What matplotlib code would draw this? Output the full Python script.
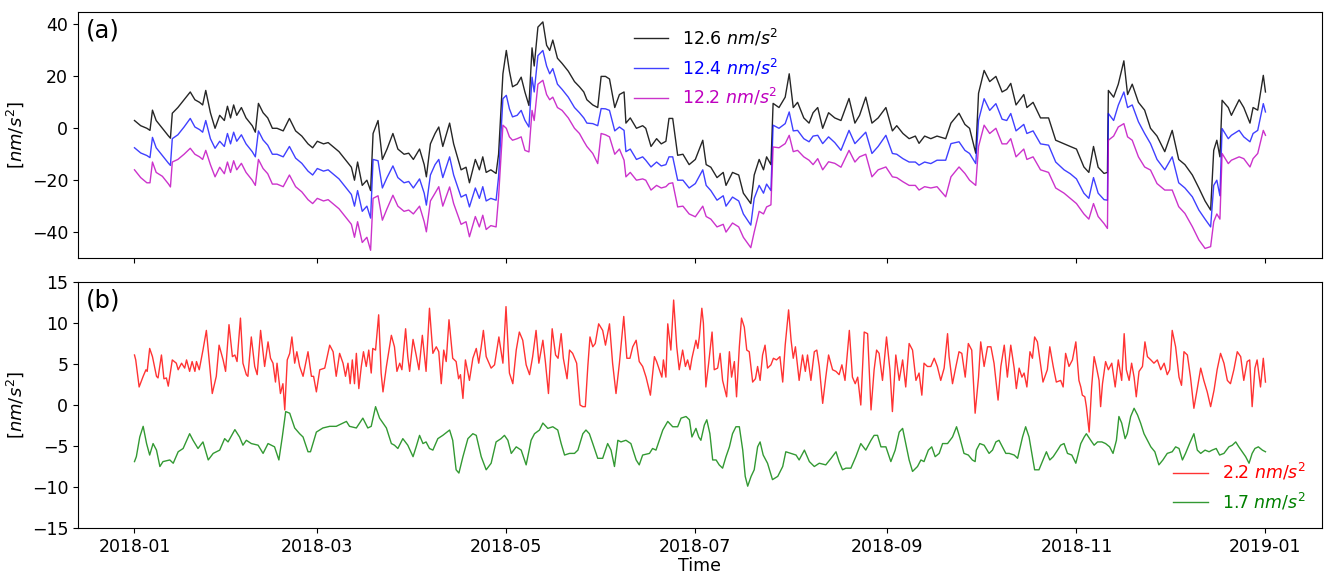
import numpy as np
import pandas as pd
import matplotlib
matplotlib.use("Agg")
import matplotlib.pyplot as plt
import matplotlib.dates as mdates

START = pd.Timestamp("2018-01-01")

# panel (a): day offsets from 2018-01-01, shared by the three curves
days_a = [0, 2, 4, 5, 5.8, 7, 9, 11, 11.6,
          12.2, 14, 16, 18, 19.5, 21, 22, 23, 24.5, 26, 27.5, 29, 30, 31, 32, 33, 34.5, 36, 38, 39, 40,
          41.5, 43, 44.5, 46, 48, 50, 52, 54, 56, 57.5, 59, 61, 62.5, 64, 66, 68, 70, 71, 72, 73.5, 75, 76.2,
          77, 78.6, 80, 81.5, 83.4, 85, 87, 88.5, 90, 92, 93.5, 94.2, 95.5, 97, 98.2, 99.5, 101.7, 103,
          105.4, 107, 108.1, 110, 111.3, 112.4, 113.5, 115, 116.7,
          117.5, 118.9, 120, 121, 122, 123.5, 124.8, 126, 127.3,
          128.3, 129, 130.2, 131.8, 133, 134, 135, 136.5, 138, 140, 142, 143.6, 145, 146, 147.9, 149.5,
          150.6, 152, 153.3, 155, 156.5, 158,
          158.6, 160, 162, 164, 165, 166.7, 168.5, 170, 171.5, 172.5, 173.7, 175.3, 177, 179, 181, 183.4,
          184.5, 186, 188, 190, 190.9, 193, 195, 196.5, 198.9, 200, 201.6, 203, 204, 205.4,
          206.1, 208, 210, 211.3, 212.6, 214, 216, 217.7, 219, 220.5, 222.1, 224, 226, 228, 230.6, 232.5,
          234, 236, 238, 240, 242.5, 244.6, 246, 248, 250, 252, 253.2, 255, 257, 259, 261.8, 263.5, 266.1,
          268, 269.5, 271.5,
          272.4, 274.2, 276, 278, 280, 281.5, 282.8, 284.5, 287, 288, 290, 292.4, 295, 297.3, 300, 302,
          304, 306.4, 308, 309.5, 311, 312.9, 314,
          314.3, 316, 317.5, 319.3, 320.5, 322, 324, 326, 327.9, 330, 332.5, 334.9, 337, 339, 341.4, 343.5,
          345.5, 347.3, 348.3, 349.3, 350.3,
          351, 353, 354, 356.5, 358, 360, 361, 362.5, 364.3, 365]

black_126 = [3, 1, 0, -0.8, 7, 3, 0, -3, -3.8,
             5.8, 8, 11, 14, 11, 10, 9, 14.6, 6, 0, 5, 3, 8.5, 4, 9, 5, 8, 4, 1, -1.5, 9.6,
             6, 4, 0, 0, -1, 3.8, -1, -3, -6, -7.5, -5, -6, -5.5, -7, -9, -12, -15, -20, -13, -22, -20, -24,
             -2, 3, -12, -8, -2, -8, -10, -9.6, -12, -8, -14, -18.7, -6, -2, 0.5, -7, 2, -6,
             -16, -15, -21, -12, -16, -11, -17, -16, -17.4,
             -10, 21, 30, 22, 16, 17, 19.7, 14, 8.8,
             31, 24, 39, 41, 32, 30, 34, 27, 25, 22, 18, 16, 14, 11, 9, 8,
             20, 20, 19, 8, 13, 14,
             2, 4, 0, 1, 0, -7, -4, -6, -5, 3.8, 3.8, -10.4, -10, -14, -12, -4.6,
             -14, -15, -19, -17, -22, -17, -18, -25, -29, -18, -12, -16, -11, -14,
             9.6, 8, 12, 21, 8, 10, 4, 2, 6, 8, 0, 6, 4, 3, 11.5, 2,
             5, 12, 2, 4, 8, -1, 1, -2, -4, -3, -5.8, -3, -4, -3, -4, 2, 5.8,
             1.5, 0, -9.6,
             13.5, 22.3, 18, 20, 14, 15, 17.3, 9, 13, 8, 10, 4, 4, -4.6, -6, -7,
             -8, -14.9, -17, -7, -15, -17.4, -17,
             14.6, 12, 17, 26, 13, 17, 10, 7, 0, -3, -9, -0.8, -12, -14, -18, -23,
             -28, -31.5, -8.5, -4.6, -11,
             10.8, 8, 5, 11, 8, 2, 8, 7, 20.4, 14]

blue_124 = [-7.5, -9.5, -10.5, -11.3, -3.5, -7.5, -10.5, -13.5, -14.3,
            -4, -2.5, 0.5, 3.8, 0.5, -0.5, -1.5, 3, -4, -7.7, -5, -7, -2, -6, -1.5, -5, -2.5, -6, -9, -11, -1,
            -4.5, -6.5, -10, -10, -11, -7, -11.5, -13.5, -16.5, -18, -15.5, -16.5, -16, -17.5, -19.5, -22.5,
            -25.5, -30, -24, -32, -30, -34.6,
            -12, -12.5, -23, -19, -14.5, -19, -21, -20.5, -23, -19.5, -25, -29.6, -18, -14, -12, -19, -11, -18,
            -26.5, -25.5, -30.3, -23, -27, -22.5, -28, -27, -27.7,
            -18.7, 11.4, 12.7, 7.5, 4.4, 5, 6.9, 3.1, 0.5,
            19.7, 14, 28, 30, 24, 21, 23, 17, 15, 12, 8, 6, 4, 2, 1.8, 1,
            7.6, 7.5, 6.9, -1, 0.5, -0.8,
            -9, -8, -12, -11, -12.3, -14.9, -13, -14.5, -14, -11, -11, -20, -20, -23, -21.3, -16,
            -22, -24, -27.7, -26, -30, -26.5, -28, -33, -37.3, -27, -22, -25, -21.5, -24,
            1.2, 0, 1.8, 6.3, -1, -0.8, -4, -5.2, -3, -2.7, -5.9, -3.3, -5.5, -8.5, -0.8, -5.9,
            -4, -1.5, -9.7, -7, -2.7, -9.7, -10, -11.7, -13, -13, -14.2, -13, -13.6, -12.3, -12.3, -5.9, -5.2,
            -8.5, -9.7, -13.6,
            3.1, 11.4, 6.9, 9.5, 3.5, 3, 5.7, -1, 1.5, -2, -1, -6, -6.5, -13, -16, -17.5,
            -19.5, -25, -27, -19, -25, -27.5, -27.7,
            5.7, 3, 8.9, 14, 8, 9, 2.5, -2, -5.9, -12, -16, -11, -21, -23, -26.4, -31.5,
            -35, -38, -22, -20, -26,
            -0.1, -4, -2.7, -0.8, -3.3, -5.2, -2, -0.8, 9.5, 6.3]

magenta_122 = [-16, -19, -21, -21, -13, -17, -18.5, -21.5, -22.6,
               -13, -12, -10, -7.7, -10, -11, -12, -8.5, -14, -18.7, -15, -17.5, -13, -17, -12.5, -16, -13.5,
               -17, -20, -22, -12,
               -15.5, -17.5, -21.5, -21.5, -22.5, -18, -22.5, -24.5, -27.5, -29, -27, -28, -27.5, -29, -31, -34,
               -37, -42, -36, -44, -42, -47,
               -27, -26, -35.4, -31, -25.8, -30, -32, -31.5, -33, -30, -36, -39.9, -28, -25, -22.5, -30, -22.6,
               -29, -37, -36, -41.8, -34, -38, -33.5, -39, -37.5, -38,
               -26.4, 1.2, 0, -3.3, -4.6, -4, -3.3, -8.5, -9.1,
               6.9, 3, 17, 18.5, 13, 11, 12, 8, 6.9, 4, 0, -2, -5, -7, -9.7, -13.6,
               -2, -2.5, -3.3, -10, -8, -12.3,
               -18.7, -17, -20, -19.5, -20, -23.8, -22, -23, -22.5, -21.3, -21, -30.3, -30, -33, -34.1, -30,
               -34, -35, -38, -37, -40, -36.5, -38, -42, -46, -40, -32, -33, -30.3, -29.5,
               -7.2, -7.5, -5.9, -2.7, -9, -8.5, -11, -12.3, -14, -11.7, -16, -12.9, -13.5, -15, -8.5, -13,
               -11, -10, -18.7, -16, -14.9, -18.7, -19, -20.6, -22, -22, -23.8, -22.5, -23, -22.5, -26.4,
               -18.7, -14.9, -17.4, -20, -22,
               -7, 1.2, -2, 0, -6, -6, -4, -11, -8, -12, -11, -16, -17, -23, -25, -27,
               -29, -33, -35, -29, -34, -36.7, -38.6,
               -4.6, -3, 0.5, 1.8, -3.3, -4.6, -11, -14.9, -16.1, -21.3, -23.8, -23.8, -30.2, -32.8, -37.9, -43,
               -46.3, -45.6, -36, -33, -35,
               -9.7, -13.6, -12.3, -11, -11.7, -14.9, -11.7, -9.7, -0.8, -2.7]

# panel (b)
days_red = [0, 0.4, 1.5, 2.8, 3.7, 4.1, 4.9, 5.8, 7.1, 7.6, 8.7, 9.5, 10.3, 10.9, 12.2, 13.5, 14.1, 15.2,
            16.2, 16.8, 17.8, 18.6, 19.5, 20, 20.9, 22.1, 23.2, 24.3, 25.1, 26.4, 27.3, 28.6, 29.4, 30.5,
            31.6, 32.4, 33.1, 34.2, 35, 36.1, 36.6, 37.7, 38.8, 39.6, 40.7, 42, 43.1, 43.9, 44.7, 45.5, 46,
            47.1, 47.9, 48.5, 49.3, 50.1, 50.8, 51.7, 52.4, 53.3, 54.4, 56, 57.1, 57.8, 58.7, 59.8, 61.4, 63,
            64.1, 65.1, 66.2, 67.3, 68.1, 68.9, 69.6, 70.3, 71, 71.6, 72.4, 73.2, 73.9, 74.8, 75.6, 76.4,
            76.9, 77.8, 78.8, 79.6, 80.2, 81.3, 82.9, 83.9, 84.7, 85.6, 86.3, 87.5, 88.2, 88.8, 89.9, 90.9,
            91.8, 92.9, 94.1, 95.2, 96.3, 97.4, 98.2, 99.0, 99.8, 100.6, 101.5, 102.7, 103.8, 104.6, 105.2,
            106.0, 106.8, 108.1, 109.2, 110.3, 111.1, 111.9, 112.6, 113.5, 115.1, 116.2, 117.6, 118.9, 119.9,
            121.0, 122.1, 123.2, 124.2, 125.3, 126.4, 127.5, 128.5, 129.6, 130.5, 131.8, 132.6, 133.6, 134.8,
            135.9, 136.7, 137.7, 138.4, 139.6, 140.4, 141.4, 142.7, 143.8, 144.7, 145.5, 146.3, 147.0, 147.9,
            148.7, 149.8, 151.1, 152.0, 153.3, 154.3, 155.4, 156.5, 157.9, 158.9, 159.9, 160.8, 161.9, 162.9,
            164.0, 165.1, 166.5, 167.8, 168.5, 169.4, 170.2, 170.7, 171.5, 172.1, 173.1, 174.0, 175.0, 175.8,
            176.9, 177.8, 178.5, 179.3, 179.9, 181.2,
            181.8, 182.3, 183.1, 183.6, 184.4, 185.3, 186.4, 187.1, 188.2, 189.0, 189.8, 191.1, 192.0, 192.7,
            193.6, 194.3, 195.2, 195.9, 196.8, 197.6, 198.4, 199.5, 200.4, 201.1, 201.9, 202.7, 203.5, 204.3,
            205.4, 206.2, 207.2, 208.3, 209.2, 210.0, 211.1, 211.9, 212.6, 213.3, 214.5, 215.6, 216.5, 217.2,
            218.3, 219.4, 220.2, 221.0, 222.1, 223.1, 224.0, 225.3, 226.4, 227.4, 228.3, 229.3, 230.7, 231.7,
            232.6, 233.4, 234.4, 235.5, 236.6, 237.7, 238.7, 239.5, 240.3, 241.4, 242.7, 243.8, 244.6, 245.7,
            246.8, 247.9, 248.9, 250.0, 251.1, 252.2, 253.2, 254.1, 254.8, 255.9, 257.0, 258.1, 259.1, 260.2,
            261.3, 262.4, 262.9, 264.0, 265.1, 266.1, 267.0, 268.1, 269.1, 270.2, 271.3,
            272.4, 273.1, 274.2, 275.3, 276.4, 277.4, 278.7, 279.6, 280.7, 281.7, 282.8, 283.9, 284.6, 285.5,
            286.4, 287.1, 288.0, 289.0, 289.8, 290.5, 291.4, 292.5, 293.2, 294.6, 295.4, 296.5, 297.5, 298.9,
            299.7, 300.5, 301.6, 302.7, 303.8, 304.8, 305.4, 305.9, 306.7, 307.2, 308.1, 308.9, 309.7, 310.4,
            311.3, 311.8, 312.4, 313.4, 314.3, 315.4, 316.5, 317.5, 318.6, 319.4, 320.1, 321.0, 321.8, 322.6,
            323.3, 324.2, 325.3, 326.1, 326.9, 328.0, 329.0, 330.1, 331.2, 332.3, 333.3, 334.1, 334.9, 336.0,
            337.1, 337.9, 338.7, 339.8, 340.8, 341.9, 343.0, 344.1, 345.1, 346.2, 347.3, 348.4, 349.4, 350.5,
            351.6, 352.7, 353.7, 354.8, 355.9, 357.0, 358.0, 359.1, 359.9, 360.7, 361.6, 362.3, 363.4, 364.3,
            365.0]

red_22 = [6.1, 5.5, 2.2, 3.5, 4.3, 4.1, 6.9, 5.9, 3.5, 3.3, 6.1, 3.2, 3.3, 2.3, 5.5, 5.1, 4.3, 5.1,
          4.5, 5.5, 4.1, 5.3, 4.1, 5.3, 4.3, 6.7, 9.1, 4.7, 1.4, 3.5, 7.3, 5.5, 4.1, 9.8,
          5.9, 6.1, 5.3, 10.6, 5.1, 3.7, 3.5, 8.3, 4.7, 3.7, 9.1, 4.7, 7.7, 5.7, 5.1, 2.8, 5.1,
          1.4, 2.6, -0.6, 5.5, 6.3, 8.3, 5.1, 6.5, 4.7, 3.5, 6.5, 3.5, 3.5, 1.6, 4.3, 4.5, 7.3,
          6.5, 3.5, 6.3, 5.1, 3.5, 5.1, 2.6, 5.5, 2.6, 6.3, 2.0, 4.7, 6.5, 4.7, 6.7, 3.9,
          6.9, 6.7, 11, 3.9, 1.6, 4.7, 8.5, 7.1, 4.1, 5.1, 4.3, 9.3, 5.9, 4.1, 8.0, 6.1,
          4.3, 8.5, 4.1, 11.8, 6.3, 7.1, 6.5, 2.6, 6.7, 5.3, 10.4, 5.7, 5.3, 3.2, 3.7,
          0.8, 5.5, 3.0, 5.7, 6.9, 5.1, 7.1, 9.1, 5.9, 4.5, 4.9, 8.3, 5.1, 12.0,
          3.9, 2.6, 6.7, 8.9, 7.9, 4.9, 3.7, 5.9, 9.1, 5.1, 7.9, 5.3, 1.4, 9.3,
          6.1, 5.7, 8.7, 5.7, 3.2, 6.7, 6.3, 5.1, 0.0, -0.2, -0.2, 4.7, 8.3, 7.1,
          7.5, 9.9, 9.1, 7.3, 9.9, 5.1, 1.4, 5.1, 10.8, 5.7, 5.7, 7.1, 7.9, 5.3,
          4.7, 3.4, 1.2, 5.9, 5.3, 4.3, 3.4, 5.5, 3.4, 9.9, 6.7, 12.8, 7.1, 4.3,
          6.7, 4.7, 5.5, 4.3, 5.7, 7.9,
          6.9, 8.3, 11.8, 10.0, 2.2, 5.1, 8.9, 4.3, 4.5, 6.3, 3.0, 1.0, 6.5, 3.4,
          5.3, 1.0, 7.1, 10.6, 9.5, 6.7, 6.5, 2.8, 3.2, 4.7, 3.0, 6.1, 7.3, 4.5,
          4.9, 5.7, 5.5, 5.9, 2.8, 7.3, 11.6, 7.9, 5.7, 7.1, 3.0, 6.1, 4.1, 6.1,
          3.0, 6.5, 6.7, 4.7, 0.2, 3.4, 6.1, 4.3, 4.1, 3.7, 4.9, 3.0, 9.1, 3.4,
          2.6, 3.4, 0.0, 8.9, 8.7, -0.6, 4.3, 6.7, 6.3, 3.0, 8.3, 4.3, -0.8, 6.1,
          3.0, 5.5, 2.2, 7.5, 6.7, 3.0, 3.9, 1.2, 5.1, 4.7, 4.7, 5.7, 4.7, 3.0,
          4.5, 8.7, 5.9, 2.6, 4.7, 6.5, 6.3, 3.4, 7.5, 6.7, -1.0,
          3.4, 7.7, 4.7, 7.1, 7.1, 5.1, 0.6, 4.7, 7.3, 3.4, 7.3, 4.5, 2.0, 4.5,
          3.4, 3.9, 2.2, 6.5, 5.7, 8.3, 7.7, 4.7, 2.8, 4.3, 7.1, 4.7, 2.8, 3.0,
          2.2, 6.3, 4.7, 5.5, 7.7, 3.0, 2.2, 1.2, 1.0, -0.2, -3.3, 2.2, 5.9, 4.7,
          3.0, -0.2, 2.6, 5.3, 4.3, 5.1, 2.2, 5.5, 3.0, 8.7, 4.3, 3.0, 5.1, 3.4,
          1.0, 4.1, 4.7, 7.7, 5.9, 5.5, 5.1, 5.5, 4.3, 5.1, 3.7, 4.3, 9.1, 7.1,
          3.4, 2.4, 6.5, 6.1, 3.4, -0.4, 2.0, 4.5, 3.0, 1.6, -0.2, 1.8, 4.3, 6.3,
          5.1, 3.0, 2.6, 4.3, 6.5, 5.9, 3.0, 5.3, 5.5, -0.2, 4.5, 5.5, 2.2, 5.7,
          2.8]

days_green = [0, 0.6, 1.7, 2.8, 3.9, 4.9, 6.0, 7.1, 8.2, 9.2, 11.4, 12.5, 14.1, 15.7, 17.8, 18.9, 20.5,
              22.1, 23.8, 25.4, 27.5, 29.1, 30.2, 32.4, 33.9, 35.0, 36.1, 37.7, 39.9, 41.5, 43.1, 45.2, 46.6,
              47.7, 48.8, 50.1, 51.7, 53.3, 54.4, 56.0, 56.8, 58.7, 60.8, 63.0, 65.1, 68.4, 69.4, 71.6, 73.7,
              75.3, 76.4, 77.8, 79.1, 81.3, 82.9, 83.9, 85.0, 86.6, 88.2, 89.9,
              90.9, 92.0, 93.1, 94.1, 95.2, 96.3, 97.9, 99.5, 101.7, 102.7, 103.8, 104.7, 106.0, 107.6, 109.2,
              110.3, 111.9, 113.5, 115.1, 116.7, 118.3, 119.4, 120.5, 121.6, 123.2, 124.8, 126.4, 128.0, 129.1,
              130.7, 131.8, 133.4, 135.0, 136.6, 137.7, 138.8, 140.4, 142.0, 143.1, 144.7, 145.7, 146.8, 147.9,
              149.5, 151.1, 152.7, 153.8, 154.9, 156.0, 157.0, 158.6, 160.2, 161.9, 162.9, 164.0, 166.2, 167.2,
              168.3, 170.5, 172.1, 173.7, 175.3, 176.4, 178.0, 179.1, 179.9, 181.2,
              182.1, 182.8, 183.9, 184.7, 185.7, 186.6, 187.7, 188.7, 189.8, 190.9, 192.0, 193.0, 194.1, 195.2,
              196.3, 197.1, 197.9, 199.0, 200.0, 201.1, 201.9, 202.9, 204.3, 205.9, 207.6, 209.2, 210.2, 211.9,
              213.5, 214.5, 216.2, 217.8, 219.4, 221.0, 223.1, 224.8, 226.4, 227.4, 228.5, 229.6, 231.2, 232.8,
              234.4, 236.0, 237.7, 238.7, 239.8, 240.9, 242.5, 244.1, 245.5, 246.8, 247.9, 248.9, 250.0, 251.1,
              252.7, 253.8, 254.8, 256.2, 257.3, 258.4, 259.7, 260.8, 262.4, 264.0, 265.3, 266.3, 267.7, 269.1,
              270.4, 271.3,
              271.7, 272.8, 274.2, 275.8, 276.9, 278.0, 279.0, 280.1, 281.2, 282.3, 283.9, 285.0, 286.6, 287.6,
              288.7, 289.8, 290.5, 291.9, 293.2, 294.3, 295.4, 296.5, 297.9, 298.9, 300.0, 301.1, 302.5, 303.8,
              305.4, 306.5, 307.2, 308.6, 309.7, 310.8, 312.2, 313.4, 314.7, 315.8, 316.9, 317.7, 318.6, 319.7,
              320.4, 321.5, 322.6, 323.7, 324.7, 325.8, 326.9, 328.0, 329.3, 330.6, 331.9, 333.3, 334.9, 336.0,
              337.1, 338.2, 339.2, 340.5, 341.9, 343.0, 344.1, 345.5, 346.8, 347.8, 349.1, 350.2, 351.6, 353.2,
              354.3, 355.4, 356.4, 357.5, 358.6, 359.7, 360.7, 361.6, 362.7, 364.0, 365.0]

green_17 = [-6.9, -6.3, -3.9, -2.6, -4.7, -6.1, -4.7, -5.5, -7.5, -6.9, -6.7, -7.1, -5.7, -5.3, -3.5, -4.3,
            -5.3, -4.5, -6.7, -5.9, -5.5, -4.1, -4.5, -3.0, -3.9, -4.9, -4.3, -4.7, -4.9, -5.9, -4.7, -5.1,
            -6.7, -3.9, -0.8, -1.0, -2.8, -3.5, -3.9, -5.7, -5.7, -3.3, -2.8, -2.6, -2.6, -2.0, -2.6, -2.8,
            -1.6, -2.8, -2.6, -0.2, -1.6, -2.8, -4.7, -4.9, -5.3, -4.1, -4.9, -6.3,
            -5.1, -3.7, -4.7, -4.5, -5.3, -5.5, -4.1, -3.7, -3.05, -4.3, -7.9, -8.3, -6.3, -4.1, -3.5,
            -3.7, -6.3, -7.9, -7.1, -4.5, -4.1, -3.7, -4.3, -5.9, -5.1, -5.5, -7.3, -4.3, -3.5,
            -3.05, -2.2, -2.85, -2.65, -3.05, -4.7, -6.1, -5.9, -5.9, -5.5, -3.5, -3.05, -3.5, -4.7,
            -6.5, -6.5, -4.7, -5.5, -7.5, -4.3, -4.5, -4.3, -4.7, -6.7, -7.3, -6.1, -5.9, -5.3,
            -5.5, -3.05, -2.0, -2.65, -2.65, -1.6, -1.4, -1.8, -3.9, -2.85,
            -3.9, -4.3, -2.45, -1.8, -3.5, -6.7, -6.7, -7.3, -7.7, -6.3, -5.1, -3.5, -2.65, -2.65,
            -5.5, -8.7, -9.9, -8.7, -7.9, -5.1, -4.5, -6.1, -7.1, -9.1, -8.7, -7.5, -5.7, -5.9,
            -6.1, -6.7, -5.5, -6.9, -7.5, -7.1, -7.3, -6.5, -5.7, -6.9, -7.9, -7.7, -7.7, -6.3,
            -4.7, -5.5, -4.3, -3.7, -3.7, -5.1, -5.1, -6.9, -5.5, -3.3, -2.85, -4.7, -6.7, -8.1,
            -7.5, -6.7, -6.9, -5.5, -5.1, -6.3, -5.9, -4.7, -4.7, -3.9, -2.65, -3.9, -5.9, -6.1,
            -6.7, -6.9,
            -5.5, -4.7, -4.9, -5.9, -5.5, -4.5, -4.3, -5.1, -5.9, -5.9, -6.1, -6.5, -3.9, -2.65,
            -3.9, -6.3, -7.9, -7.9, -6.7, -5.7, -6.7, -6.3, -5.5, -4.9, -4.7, -5.9, -6.1, -7.1,
            -4.7, -3.9, -3.5, -4.3, -4.9, -4.5, -4.5, -4.7, -5.1, -5.9, -4.3, -1.4, -2.2, -4.1,
            -3.5, -1.4, -0.4, -1.2, -2.2, -3.5, -4.3, -5.1, -5.7, -7.3, -6.7, -5.9, -5.7, -5.1,
            -5.3, -6.7, -5.9, -4.7, -3.5, -5.5, -5.9, -5.5, -5.7, -5.5, -5.3, -6.1, -5.9, -5.1,
            -4.9, -4.5, -5.1, -5.7, -6.3, -7.1, -5.9, -5.3, -5.1, -5.5, -5.7]

labels_a = ["12.6 $nm/s^2$", "12.4 $nm/s^2$", "12.2 $nm/s^2$"]
labels_b = ["2.2 $nm/s^2$", "1.7 $nm/s^2$"]


def to_dates(days):
    return START + pd.to_timedelta(np.asarray(days, dtype=float), unit="D")


fig = plt.figure(figsize=(13.3, 5.76), dpi=100)
ax1 = fig.add_axes([0.0586, 0.552, 0.9354, 0.428])
ax2 = fig.add_axes([0.0586, 0.0833, 0.9354, 0.4271], sharex=ax1)

t_a = to_dates(days_a)
ax1.plot(t_a, black_126, color="k", lw=1, alpha=0.85, label=labels_a[0])
ax1.plot(t_a, blue_124, color="b", lw=1, alpha=0.75, label=labels_a[1])
ax1.plot(t_a, magenta_122, color="m", lw=1, alpha=0.8, label=labels_a[2])
ax1.set_ylim(-50, 45)
ax1.set_yticks([-40, -20, 0, 20, 40])
ax1.set_ylabel("[$nm/s^2$]", fontsize=13)
ax1.text(0.006, 0.925, "(a)", transform=ax1.transAxes, fontsize=17.5, va="center", ha="left")
ax1.legend(loc="upper center", frameon=False, fontsize=12.5, labelcolor="linecolor",
           bbox_to_anchor=(0.505, 1.0))
ax1.tick_params(labelbottom=False, labelsize=12.5)

ax2.plot(to_dates(days_red), red_22, color="r", lw=1, alpha=0.8, label=labels_b[0])
ax2.plot(to_dates(days_green), green_17, color="g", lw=1, alpha=0.8, label=labels_b[1])
ax2.set_ylim(-15, 15)
ax2.set_yticks(np.arange(-15, 16, 5))
ax2.set_ylabel("[$nm/s^2$]", fontsize=13)
ax2.set_xlabel("Time", fontsize=12.5, labelpad=1)
ax2.text(0.006, 0.925, "(b)", transform=ax2.transAxes, fontsize=17.5, va="center", ha="left")
ax2.legend(loc="lower right", frameon=False, fontsize=12.5, labelcolor="linecolor")
ax2.tick_params(labelsize=12.5)

ax2.xaxis.set_major_locator(mdates.MonthLocator(bymonth=[1, 3, 5, 7, 9, 11]))
ax2.xaxis.set_major_formatter(mdates.DateFormatter("%Y-%m"))

fig.savefig("out.png", dpi=100)
